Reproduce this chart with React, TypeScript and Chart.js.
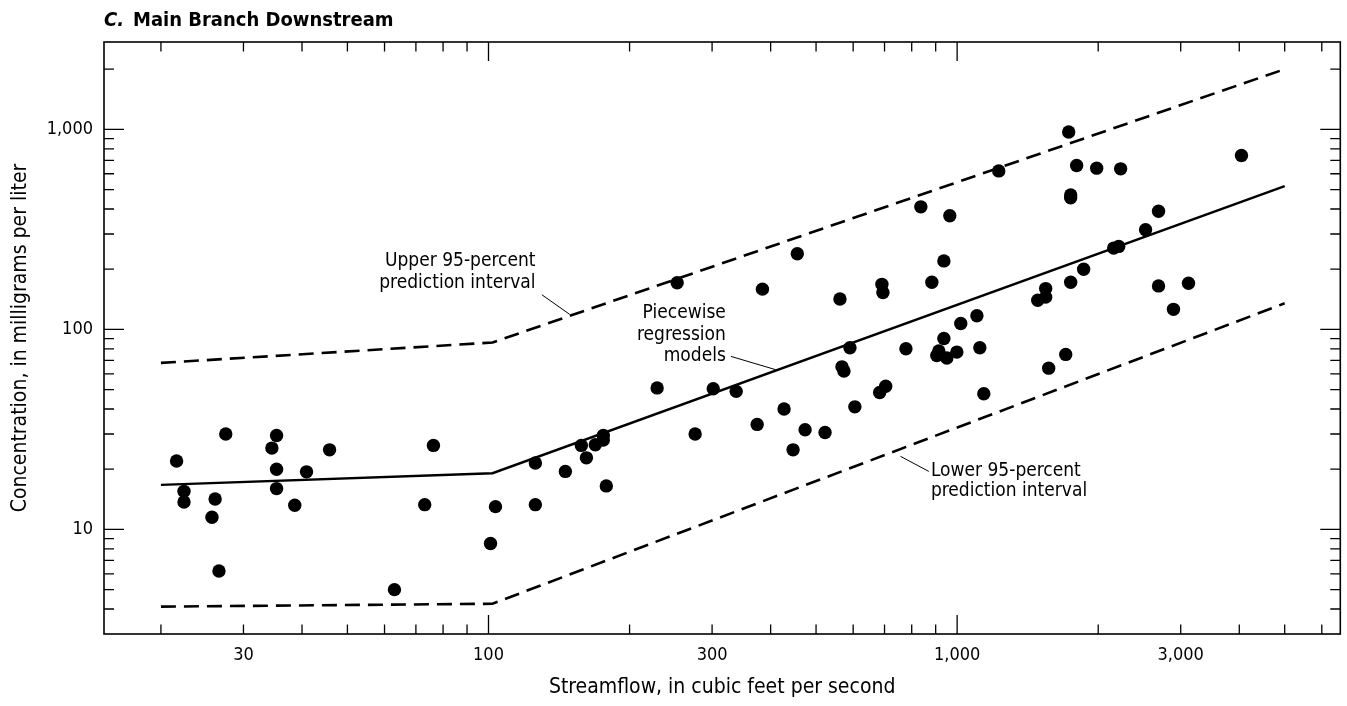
import React, { useEffect, useRef } from "react";
import { Chart, registerables } from "chart.js";

Chart.register(...registerables);

// ---- data ----
const flowCfs = [
  21.6, 22.4, 22.4, 26.1, 25.7, 26.6, 27.5, 34.5, 35.3, 35.3, 35.3, 38.6, 40.9, 45.8, 63, 73.1, 76.3,
  103.5, 101, 125.9, 125.9, 145.9, 157.8, 161.8, 169, 175.8, 175.8, 178.4, 229, 252.7, 276, 301.7,
  337.7, 374.4, 384.2, 427.3, 446.6, 473.8, 456, 522.6, 562.3, 567.9, 573.5, 590.6, 605, 683.5, 691,
  694.5, 704, 777.6, 836.7, 883.2, 905, 914, 937, 937, 950.6, 964.7, 998.6, 1018, 1102, 1118, 1140,
  1227, 1486, 1545, 1545, 1568, 1705, 1730, 1747, 1747, 1747, 1799, 1862, 1985, 2158, 2212, 2233,
  2524, 2690, 2690, 2895, 3117, 4043,
];
const concentration = [
  22, 15.5, 13.7, 14.2, 11.5, 6.2, 30, 25.5, 29.5, 20, 16, 13.2, 19.4, 25, 5.0, 13.3, 26.3,
  13, 8.5, 21.5, 13.3, 19.5, 26.3, 22.8, 26.5, 28, 29.5, 16.5, 51, 171, 30, 50.5,
  49, 33.5, 159, 40, 25, 31.5, 239, 30.5, 142, 65, 62, 81, 41, 48.4, 168,
  153, 52, 80, 410, 172, 74, 78, 220, 90, 72, 370, 77, 107, 117, 81, 47.7,
  620, 140, 160, 145, 64, 75, 970, 172, 470, 455, 660, 200, 640, 255, 260, 635,
  315, 165, 390, 126, 170, 740,
];

const lineFlow = [20, 102, 5000];
const regressionModel = [16.7, 19.1, 520];
const upper95 = [68, 86, 2000];
const lower95 = [4.11, 4.25, 135];

const xTicks = [20, 30, 40, 50, 60, 70, 80, 90, 100, 200, 300, 400, 500, 600, 700, 800, 900, 1000, 2000, 3000, 4000, 5000, 6000];
const xMajor = [100, 1000];
const xLabels = [30, 100, 300, 1000, 3000];
const yTicks = [4, 5, 6, 7, 8, 9, 10, 20, 30, 40, 50, 60, 70, 80, 90, 100, 200, 300, 400, 500, 600, 700, 800, 900, 1000, 2000];
const yMajor = [10, 100, 1000];
const yLabels = [10, 100, 1000];

const titleLetter = "C.";
const titleText = "Main Branch Downstream";
const xTitle = "Streamflow, in cubic feet per second";
const yTitle = "Concentration, in milligrams per liter";

const FONT = "'DejaVu Sans Condensed', 'DejaVu Sans', sans-serif";

const toPts = (xs: number[], ys: number[]) => xs.map((x, i) => ({ x, y: ys[i] }));

// annotations in data coordinates
const annotations = [
  { lines: ["Upper 95-percent", "prediction interval"], x: 126, y: [219, 171], align: "right", leader: [130, 149, 149, 119] },
  { lines: ["Piecewise", "regression", "models"], x: 321, y: [120.8, 94.1, 73.3], align: "right", leader: [329, 73.3, 410, 62.9] },
  { lines: ["Lower 95-percent", "prediction interval"], x: 879, y: [19.5, 15.5], align: "left", leader: [757, 23.2, 870, 19.5] },
];

const framePlugin = {
  id: "frameTicks",
  afterDraw(chart: any) {
    const { ctx, chartArea: a, scales } = chart;
    const xs = scales.x;
    const ys = scales.y;
    ctx.save();
    ctx.strokeStyle = "#000";
    ctx.lineWidth = 1.3;
    ctx.beginPath();
    for (const v of xTicks) {
      const p = xs.getPixelForValue(v);
      const len = xMajor.includes(v) ? 19 : 9.5;
      ctx.moveTo(p, a.bottom);
      ctx.lineTo(p, a.bottom - len);
      ctx.moveTo(p, a.top);
      ctx.lineTo(p, a.top + len);
    }
    for (const v of yTicks) {
      const p = ys.getPixelForValue(v);
      const len = yMajor.includes(v) ? 20 : 10;
      ctx.moveTo(a.left, p);
      ctx.lineTo(a.left + len, p);
      ctx.moveTo(a.right, p);
      ctx.lineTo(a.right - len, p);
    }
    ctx.stroke();
    ctx.lineWidth = 1.6;
    ctx.strokeRect(a.left, a.top, a.right - a.left, a.bottom - a.top);

    // annotations
    ctx.fillStyle = "#000";
    ctx.font = `19px ${FONT}`;
    ctx.textBaseline = "middle";
    ctx.lineWidth = 1;
    for (const an of annotations) {
      ctx.textAlign = an.align as CanvasTextAlign;
      const px = xs.getPixelForValue(an.x);
      an.lines.forEach((t, i) => ctx.fillText(t, px, ys.getPixelForValue(an.y[i])));
      const [x1, y1, x2, y2] = an.leader;
      ctx.beginPath();
      ctx.moveTo(xs.getPixelForValue(x1), ys.getPixelForValue(y1));
      ctx.lineTo(xs.getPixelForValue(x2), ys.getPixelForValue(y2));
      ctx.stroke();
    }

    // title
    ctx.textAlign = "left";
    ctx.textBaseline = "alphabetic";
    ctx.font = `italic bold 20px ${FONT}`;
    ctx.fillText(titleLetter, a.left, 26);
    ctx.font = `bold 20px ${FONT}`;
    ctx.fillText(titleText, a.left + 29, 26);
    ctx.restore();
  },
};

export default function App() {
  const ref = useRef<HTMLCanvasElement>(null);
  useEffect(() => {
    document.body.style.margin = "0";
    const canvas = ref.current;
    if (!canvas) return;
    const lineDs = (label: string, ys: number[], dash: number[], width: number) => ({
      type: "line" as const,
      label,
      data: toPts(lineFlow, ys),
      borderColor: "#000",
      borderWidth: width,
      borderDash: dash,
      pointRadius: 0,
      fill: false,
      tension: 0,
    });
    const chart = new Chart(canvas, {
      type: "scatter",
      data: {
        datasets: [
          lineDs("Upper 95-percent prediction interval", upper95, [15, 8], 2.6),
          lineDs("Piecewise regression models", regressionModel, [], 2.4),
          lineDs("Lower 95-percent prediction interval", lower95, [15, 8], 2.6),
          {
            label: "Samples",
            data: toPts(flowCfs, concentration),
            backgroundColor: "#000",
            borderWidth: 0,
            pointRadius: 6.7,
            pointHoverRadius: 6.7,
          },
        ],
      },
      options: {
        responsive: false,
        animation: false,
        events: [],
        layout: { padding: { top: 42, right: 5, left: 0, bottom: 0 } },
        plugins: { legend: { display: false }, tooltip: { enabled: false }, title: { display: false } },
        scales: {
          x: {
            type: "logarithmic",
            min: 15.12,
            max: 6571,
            grid: { display: false, drawTicks: false },
            border: { display: false },
            afterBuildTicks: (s: any) => {
              s.ticks = xTicks.map((v) => ({ value: v }));
            },
            afterFit: (s: any) => {
              s.height = 72;
            },
            ticks: {
              autoSkip: false,
              maxRotation: 0,
              padding: 11,
              color: "#000",
              font: { family: FONT, size: 18 },
              callback: (v: any) => (xLabels.includes(Number(v)) ? Number(v).toLocaleString("en-US") : ""),
            },
            title: {
              display: true,
              text: xTitle,
              color: "#000",
              font: { family: FONT, size: 21 },
              padding: { top: 0, bottom: 6 },
            },
          },
          y: {
            type: "logarithmic",
            min: 3,
            max: 2735,
            grid: { display: false, drawTicks: false },
            border: { display: false },
            afterBuildTicks: (s: any) => {
              s.ticks = yTicks.map((v) => ({ value: v }));
            },
            afterFit: (s: any) => {
              s.width = 104;
            },
            ticks: {
              autoSkip: false,
              padding: 11,
              color: "#000",
              font: { family: FONT, size: 18 },
              callback: (v: any) => (yLabels.includes(Number(v)) ? Number(v).toLocaleString("en-US") : ""),
            },
            title: {
              display: true,
              text: yTitle,
              color: "#000",
              font: { family: FONT, size: 21 },
              padding: { top: 8, bottom: 0 },
            },
          },
        },
      },
      plugins: [framePlugin],
    });
    return () => chart.destroy();
  }, []);
  return (
    <div style={{ position: "absolute", left: 0, top: 0, width: 1347, height: 706, background: "#fff" }}>
      <canvas ref={ref} width={1347} height={706} style={{ display: "block", width: 1347, height: 706 }} />
    </div>
  );
}
